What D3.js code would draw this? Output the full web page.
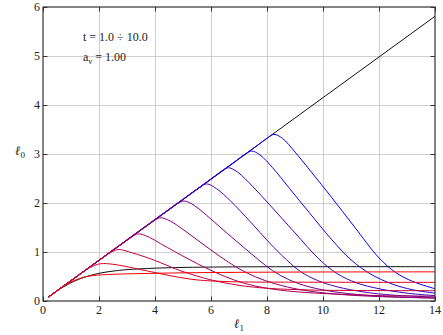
<!DOCTYPE html>
<html>
<head>
<meta charset="utf-8">
<script src="https://cdn.jsdelivr.net/npm/d3@7"></script>
<style>
body { margin: 0; background: #fff; }
text { font-family: "Liberation Serif", "DejaVu Serif", serif; fill: #222; }
</style>
</head>
<body>
<svg id="chart" width="443" height="335"></svg>
<script>
// family parameter t (red -> blue)
var tValues = [1, 2, 3, 4, 5, 6, 7, 8, 9, 10]

// black reference curves
var diagonalLine = [[0.2, 0.083], [14, 5.81]]
var plateauCurve = [[0.2, 0.083], [0.55, 0.225], [0.8, 0.31], [1.1, 0.40], [1.5, 0.49], [2.0, 0.565], [2.5, 0.61], [3.0, 0.64], [4.0, 0.67], [5.0, 0.685], [6.5, 0.695], [9, 0.70], [14, 0.70]]

// one curve per t
var curveT1 = [[0.2, 0.083], [0.7, 0.29], [1.0, 0.39], [1.4, 0.475], [1.8, 0.52], [2.5, 0.545], [3.5, 0.56], [5, 0.575], [7, 0.585], [10, 0.592], [14, 0.595]]
var curveT2 = [[0.2, 0.083], [1.4, 0.58], [1.7, 0.69], [2.05, 0.76], [2.5, 0.75], [3.0, 0.70], [3.5, 0.64], [4.0, 0.58], [4.5, 0.52], [5.0, 0.47], [5.5, 0.43], [6.0, 0.41], [7.0, 0.39], [8.5, 0.385], [14, 0.38]]
var curveT3 = [[0.2, 0.083], [2.15, 0.89], [2.45, 1.0], [2.69, 1.05], [3.2, 0.98], [3.94, 0.84], [4.5, 0.71], [5.0, 0.60], [6.0, 0.43], [7.0, 0.32], [8.0, 0.26], [9.5, 0.225], [11, 0.215], [14, 0.21]]
var curveT4 = [[0.2, 0.083], [2.85, 1.18], [3.15, 1.30], [3.4, 1.37], [3.8, 1.30], [4.2, 1.17], [4.7, 1.01], [5.25, 0.84], [5.8, 0.68], [6.5, 0.50], [7.2, 0.36], [8, 0.26], [9, 0.19], [10.5, 0.14], [12, 0.11], [14, 0.10]]
var curveT5 = [[0.2, 0.083], [3.65, 1.51], [4.0, 1.65], [4.2, 1.70], [4.55, 1.63], [5.0, 1.46], [5.5, 1.25], [6.0, 1.04], [6.5, 0.84], [7.0, 0.66], [7.6, 0.49], [8.3, 0.35], [9.2, 0.23], [10.5, 0.14], [12, 0.09], [14, 0.06]]
var curveT6 = [[0.2, 0.083], [4.45, 1.85], [4.8, 1.99], [5.05, 2.04], [5.4, 1.95], [6.0, 1.67], [6.6, 1.37], [7.2, 1.08], [7.7, 0.84], [8.2, 0.62], [8.8, 0.43], [9.5, 0.29], [10.5, 0.18], [12, 0.10], [14, 0.06]]
var curveT7 = [[0.2, 0.083], [5.2, 2.16], [5.6, 2.32], [5.85, 2.39], [6.2, 2.29], [6.7, 2.04], [7.4, 1.62], [8.1, 1.18], [8.7, 0.84], [9.2, 0.60], [9.8, 0.42], [10.5, 0.29], [11.5, 0.18], [12.5, 0.12], [14, 0.08]]
var curveT8 = [[0.2, 0.083], [6.0, 2.49], [6.4, 2.66], [6.62, 2.72], [6.95, 2.63], [7.5, 2.33], [8.1, 1.96], [9.0, 1.39], [9.85, 0.86], [10.5, 0.56], [11.2, 0.37], [12, 0.25], [13, 0.16], [14, 0.11]]
var curveT9 = [[0.2, 0.083], [6.8, 2.82], [7.2, 2.99], [7.45, 3.06], [7.75, 2.98], [8.2, 2.72], [8.8, 2.30], [9.5, 1.81], [10.3, 1.26], [11.0, 0.84], [11.7, 0.55], [12.5, 0.34], [13.2, 0.23], [14, 0.16]]
var curveT10 = [[0.2, 0.083], [7.6, 3.15], [8.0, 3.32], [8.25, 3.40], [8.55, 3.32], [9.0, 3.04], [9.6, 2.62], [10.3, 2.12], [11.1, 1.53], [12.0, 0.88], [12.6, 0.58], [13.2, 0.40], [14, 0.25]]

var xTicks = [0, 2, 4, 6, 8, 10, 12, 14]
var yTicks = [0, 1, 2, 3, 4, 5, 6]

var curves = [curveT1, curveT2, curveT3, curveT4, curveT5, curveT6, curveT7, curveT8, curveT9, curveT10]

var width = 443, height = 335
var margin = {left: 43, right: 8, top: 7, bottom: 34}

var svg = d3.select("#chart")

var xScale = d3.scaleLinear().domain([0, 14]).range([margin.left, width - margin.right])
var yScale = d3.scaleLinear().domain([0, 6]).range([height - margin.bottom, margin.top])

var x0 = xScale.range()[0], x1 = xScale.range()[1]
var y0 = yScale.range()[0], y1 = yScale.range()[1]

// grid
var grid = svg.append("g").attr("stroke", "#cfcfcf").attr("stroke-width", 1)
grid.selectAll("line.gx")
    .data(xTicks.slice(1, -1))
    .enter()
        .append("line")
        .attr("x1", function(d){ return Math.round(xScale(d)) + 0.5 })
        .attr("x2", function(d){ return Math.round(xScale(d)) + 0.5 })
        .attr("y1", y0)
        .attr("y2", y1)
grid.selectAll("line.gy")
    .data(yTicks.slice(1, -1))
    .enter()
        .append("line")
        .attr("y1", function(d){ return Math.round(yScale(d)) + 0.5 })
        .attr("y2", function(d){ return Math.round(yScale(d)) + 0.5 })
        .attr("x1", x0)
        .attr("x2", x1)

// curves
var line = d3.line()
    .x(function(d){ return xScale(d[0]) })
    .y(function(d){ return yScale(d[1]) })
    .curve(d3.curveCatmullRom.alpha(0.5))

var plot = svg.append("g")
    .attr("fill", "none")
    .attr("stroke-width", 1)

plot.append("path").attr("d", line(diagonalLine)).attr("stroke", "#111")
plot.append("path").attr("d", line(plateauCurve)).attr("stroke", "#111")

var color = d3.scaleLinear().domain([1, 10]).range(["#ff0000", "#0000ff"]).interpolate(d3.interpolateRgb)

// high t first, so the red curves end up on top along the diagonal
for(var i = curves.length - 1; i >= 0; i--)
{
    plot.append("path")
        .attr("d", line(curves[i]))
        .attr("stroke", color(tValues[i]))
}

// frame with inside ticks on all four sides
var xMinor = d3.range(0, 14.01, 0.5)
var yMinor = d3.range(0, 6.01, 0.2)

function frameAxis(axisFn, scale, major, minor, transform)
{
    var g = svg.append("g").attr("transform", transform)
    g.call(axisFn(scale).tickValues(minor).tickSize(-2.5).tickFormat(""))
    g.call(axisFn(scale).tickValues(major).tickSize(-4.5).tickFormat(""))
    g.select(".domain").remove()
    g.selectAll(".tick line").attr("stroke", "#333")
    return g
}
frameAxis(d3.axisBottom, xScale, xTicks, xMinor, "translate(0," + y0 + ")")
frameAxis(d3.axisTop, xScale, xTicks, xMinor, "translate(0," + y1 + ")")
frameAxis(d3.axisLeft, yScale, yTicks, yMinor, "translate(" + x0 + ",0)")
frameAxis(d3.axisRight, yScale, yTicks, yMinor, "translate(" + x1 + ",0)")

svg.append("rect")
    .attr("x", x0).attr("y", y1)
    .attr("width", x1 - x0).attr("height", y0 - y1)
    .attr("fill", "none").attr("stroke", "#333").attr("stroke-width", 1.2)

// tick labels
svg.selectAll("text.xl")
    .data(xTicks)
    .enter()
        .append("text")
        .attr("x", function(d){ return xScale(d) })
        .attr("y", y0 + 13)
        .attr("text-anchor", "middle")
        .attr("font-size", 12)
        .text(function(d){ return d })
svg.selectAll("text.yl")
    .data(yTicks)
    .enter()
        .append("text")
        .attr("x", x0 - 3)
        .attr("y", function(d){ return yScale(d) + 4 })
        .attr("text-anchor", "end")
        .attr("font-size", 12)
        .text(function(d){ return d })

// axis labels
var xl = svg.append("text").attr("x", 234).attr("y", 328).attr("font-size", 13)
xl.append("tspan").attr("font-style", "italic").text("ℓ")
xl.append("tspan").attr("font-size", 9).attr("dy", 3).text("1")

var yl = svg.append("text").attr("x", 15).attr("y", 155).attr("font-size", 13)
yl.append("tspan").attr("font-style", "italic").text("ℓ")
yl.append("tspan").attr("font-size", 9).attr("dy", 3).text("0")

// annotations
svg.append("text").attr("x", 83).attr("y", 41).attr("font-size", 12).text("t = 1.0 ÷ 10.0")
var av = svg.append("text").attr("x", 83).attr("y", 61).attr("font-size", 12)
av.append("tspan").text("a")
av.append("tspan").attr("font-size", 8).attr("dy", 3).text("v")
av.append("tspan").attr("dy", -3).text(" = 1.00")
</script>
</body>
</html>
